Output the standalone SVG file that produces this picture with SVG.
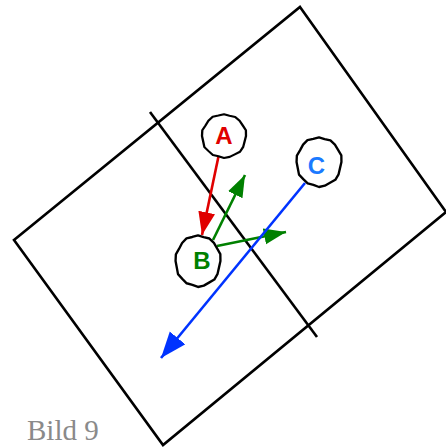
<svg xmlns="http://www.w3.org/2000/svg" width="446" height="447" viewBox="0 0 446 447">
  <style>
    .frame { fill: none; stroke: #000; stroke-width: 2.6; stroke-linejoin: miter; }
    .blob { fill: #fff; stroke: #000; stroke-width: 2.3; stroke-linejoin: round; }
    .lbl { font-family: "Liberation Sans", Arial, sans-serif; font-weight: bold; font-size: 24px; text-anchor: middle; }
    .arr { fill: none; stroke-width: 2.6; }
    .cap { font-family: "Liberation Serif", "Times New Roman", serif; font-size: 29px; fill: #8a8a8a; }
  </style>
  <defs>
    <polygon id="blob" points="22,0 20.6,6 19.2,12.1 16,17.5 10.8,20.4 5.7,23.2 0,24.5 -5.5,22.5 -11.1,21 -15.4,16.8 -19.6,12.4 -20.8,6.1 -22,0 -21.7,-6.3 -18.5,-11.6 -15.6,-17 -11.3,-21.4 -5.6,-22.7 0,-24.2 5.5,-22.5 11.2,-21.2 15.6,-17 18.7,-11.8 21.9,-6.4"/>
    <marker id="hRed" markerUnits="userSpaceOnUse" markerWidth="24" markerHeight="18" refX="23" refY="8.5" orient="auto">
      <path d="M0,0 L23,8.5 L0,17 z" fill="#e00000"/>
    </marker>
    <marker id="hGreen" markerUnits="userSpaceOnUse" markerWidth="24" markerHeight="18" refX="22" refY="8" orient="auto">
      <path d="M0,0 L22,8 L0,16 z" fill="#008000"/>
    </marker>
    <marker id="hBlue" markerUnits="userSpaceOnUse" markerWidth="27" markerHeight="21" refX="26" refY="10" orient="auto">
      <path d="M0,0 L26,10 L0,20 z" fill="#0033ff"/>
    </marker>
  </defs>

  <g id="frame">
    <polygon class="frame" points="300,7 446,212 163,445 14,240"/>
    <line class="frame" x1="150" y1="112" x2="317" y2="337"/>
  </g>

  <g id="connectors">
    <line class="arr" stroke="#e00000" x1="219" y1="154" x2="202" y2="235" marker-end="url(#hRed)"/>
    <line class="arr" stroke="#008000" x1="213" y1="240" x2="245" y2="175" marker-end="url(#hGreen)"/>
    <line class="arr" stroke="#008000" x1="217" y1="246" x2="286" y2="232" marker-end="url(#hGreen)"/>
  </g>

  <g id="node-A">
    <use href="#blob" class="blob" transform="translate(224,136) scale(1,0.9)"/>
    <text class="lbl" x="224" y="143.5" fill="#e00000">A</text>
  </g>
  <g id="node-B">
    <use href="#blob" class="blob" transform="translate(198,261) scale(1.02,1.06)"/>
    <text class="lbl" x="202" y="268.5" fill="#008000">B</text>
  </g>
  <g id="node-C">
    <use href="#blob" class="blob" transform="translate(319,162) scale(1.02,1.02)"/>
    <text class="lbl" x="316.5" y="173.5" fill="#1a7aff">C</text>
  </g>

  <g id="connector-C">
    <line class="arr" stroke="#0033ff" x1="305" y1="183" x2="161" y2="358" marker-end="url(#hBlue)"/>
  </g>

  <text class="cap" x="27" y="440">Bild 9</text>
</svg>
